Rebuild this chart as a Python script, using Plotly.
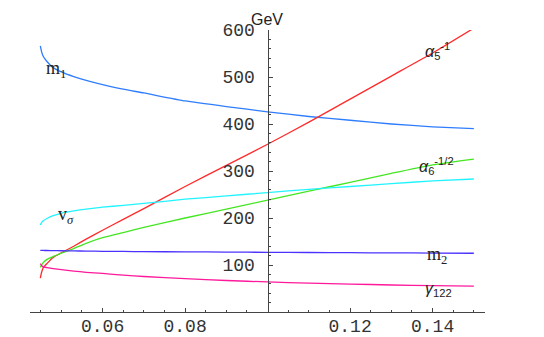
import plotly.graph_objects as go

# ---- data ----
x_vals = [0.0449, 0.0452, 0.0456, 0.0465, 0.048, 0.050, 0.053, 0.056, 0.060, 0.065, 0.070,
          0.080, 0.090, 0.100, 0.110, 0.120, 0.130, 0.140, 0.150]

m1 = [566, 554, 544, 533, 520, 511, 501, 493, 484, 474, 466,
      449, 437, 426, 416, 408, 400, 394, 390]
alpha5_inv = [72, 84, 94, 103, 116, 126, 140, 155, 174, 197, 220,
              267, 312, 357, 404, 453, 502, 551, 604]
alpha6_inv_sqrt = [95, 100, 105, 112, 118, 125, 135, 146, 158, 169, 180,
                   200, 219, 238, 257, 276, 295, 313, 325.5]
v_sigma = [185, 190, 194, 199, 205, 210, 215, 219, 223, 227, 231,
           240, 247, 254, 261, 267, 273, 279, 283]
m2 = [131, 131, 131, 130.8, 130.6, 130.3, 130, 129.6, 129.2, 128.8, 128.5,
      128, 127.5, 127, 126.6, 126.2, 125.8, 125.4, 125]
gamma122 = [103, 99, 96, 94.5, 92.5, 90, 87, 84.5, 82, 78.5, 75.5,
            71, 67, 64, 61.5, 59.5, 57.5, 56, 55]

x_ticks = [0.06, 0.08, 0.12, 0.14]
x_tick_labels = ["0.06", "0.08", "0.12", "0.14"]
y_ticks = [100, 200, 300, 400, 500, 600]
y_tick_labels = ["100", "200", "300", "400", "500", "600"]

series = [
    (m1, "#2f7dff"),
    (alpha5_inv, "#ff2a2a"),
    (alpha6_inv_sqrt, "#44e622"),
    (v_sigma, "#22f4ff"),
    (m2, "#4a33ff"),
    (gamma122, "#ff1a9c"),
]

fig = go.Figure()
for ys, col in series:
    fig.add_trace(go.Scatter(x=x_vals, y=ys, mode="lines",
                             line=dict(color=col, width=1.3, shape="spline", smoothing=0.5),
                             hoverinfo="skip", showlegend=False))

mono = "Nimbus Mono PS, Courier New, Courier, Liberation Mono, monospace"
axis_col = "#444444"

# the page body adds an 8 px offset, so the figure is drawn 8 px smaller
fig.update_layout(
    width=536, height=329,
    margin=dict(l=22, r=59, t=22, b=25, autoexpand=False),
    paper_bgcolor="white", plot_bgcolor="white",
    showlegend=False,
    xaxis=dict(range=[0.0424, 0.1527], showgrid=False, zeroline=False, automargin=False,
               showline=True, linecolor=axis_col, linewidth=1,
               tickmode="array", tickvals=x_ticks, ticktext=x_tick_labels,
               ticks="inside", ticklen=4, tickcolor=axis_col, tickwidth=1,
               ticklabelstandoff=-3,
               tickfont=dict(family=mono, size=18, color="#333333"),
               minor=dict(tickmode="array",
                          tickvals=[0.045, 0.05, 0.055, 0.065, 0.07, 0.075, 0.085, 0.09, 0.095,
                                    0.105, 0.11, 0.115, 0.125, 0.13, 0.135, 0.145, 0.15],
                          ticks="inside", ticklen=2, tickcolor=axis_col)),
    yaxis=dict(range=[0, 600], showgrid=False, zeroline=False, automargin=False,
               anchor="free", position=(267.5 - 30) / 455, side="left",
               showline=True, linecolor=axis_col, linewidth=1,
               tickmode="array", tickvals=y_ticks, ticktext=y_tick_labels,
               ticks="inside", ticklen=4, tickcolor=axis_col, tickwidth=1,
               ticklabelstandoff=9,
               tickfont=dict(family=mono, size=18, color="#333333"),
               minor=dict(dtick=20, tick0=0, ticks="inside", ticklen=2, tickcolor=axis_col)),
)

txt = "#222222"
serif = "Liberation Serif"
sans = "Liberation Sans"


def px_to_x(px):
    return 0.1 + (px - 267.5) / 4125.0


def px_to_y(py):
    return (312 - py) / 0.47


ann = [
    dict(x=px_to_x(267), y=1.0745, xref="x", yref="paper", text="GeV", yanchor="top",
         font=dict(family=sans, size=16, color=txt)),
    dict(x=px_to_x(505), y=0, text="x",
         font=dict(family=mono, size=20, color=txt)),
    dict(x=px_to_x(56), y=px_to_y(69), text="m<sub>1</sub>", font=dict(family=serif, size=18, color=txt)),
    dict(x=px_to_x(66), y=px_to_y(215), text="v<sub><i>σ</i></sub>", font=dict(family=serif, size=18, color=txt)),
    dict(x=px_to_x(437), y=px_to_y(51), text="<i>α</i><sub>5</sub><sup>-1</sup>", font=dict(family=sans, size=16, color=txt)),
    dict(x=px_to_x(436), y=px_to_y(166), text="<i>α</i><sub>6</sub><sup>-1/2</sup>", font=dict(family=sans, size=16, color=txt)),
    dict(x=px_to_x(437), y=px_to_y(255), text="m<sub>2</sub>", font=dict(family=serif, size=18, color=txt)),
    dict(x=px_to_x(438), y=px_to_y(289), text="<i>γ</i><sub>122</sub>", font=dict(family=sans, size=16, color=txt)),
]
for a in ann:
    a.setdefault("xref", "x")
    a.setdefault("yref", "y")
    a.setdefault("yanchor", "middle")
    a["showarrow"] = False
    a["xanchor"] = "center"
    fig.add_annotation(**a)

fig.write_html("out.html")
